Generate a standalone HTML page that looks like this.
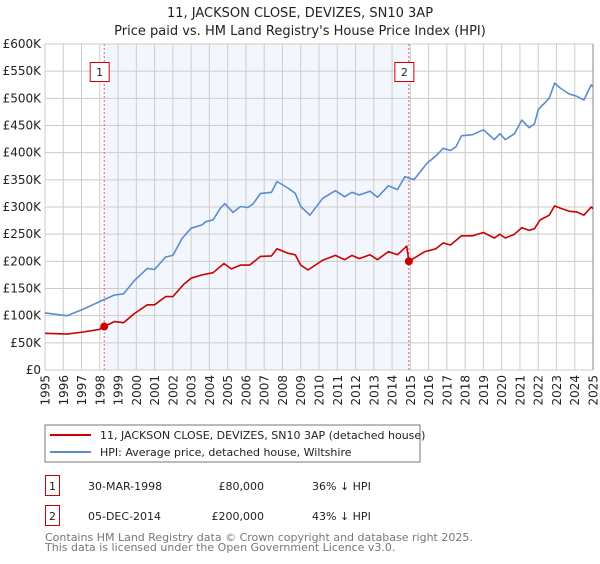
<!DOCTYPE html>
<html><head><meta charset="utf-8"><style>
body{margin:0;width:600px;height:560px;background:#fff;font-family:"DejaVu Sans","Liberation Sans",sans-serif;overflow:hidden}
svg text{font-family:"DejaVu Sans","Liberation Sans",sans-serif}
</style></head><body>
<svg id="c" width="600" height="560" viewBox="0 0 600 560">
<text x="300" y="17" text-anchor="middle" font-size="13" fill="#222">11, JACKSON CLOSE, DEVIZES, SN10 3AP</text>
<text x="300" y="35" text-anchor="middle" font-size="13" fill="#222">Price paid vs. HM Land Registry's House Price Index (HPI)</text>
<g id="plot"></g>
<rect x="45" y="425" width="375" height="37" fill="#fff" stroke="#777"/>
<line x1="50" y1="435" x2="91" y2="435" stroke="#cc0000" stroke-width="2"/>
<text x="100" y="439" font-size="11" fill="#222">11, JACKSON CLOSE, DEVIZES, SN10 3AP (detached house)</text>
<line x1="50" y1="452" x2="91" y2="452" stroke="#5b8bd0" stroke-width="2"/>
<text x="100" y="456" font-size="11" fill="#222">HPI: Average price, detached house, Wiltshire</text>
<g>
<rect x="45.5" y="475.5" width="14" height="20" fill="#fff" stroke="#cc0000"/>
<text x="52.5" y="490" text-anchor="middle" font-size="11" fill="#222">1</text>
<text x="88" y="490" font-size="11" fill="#222">30-MAR-1998</text>
<text x="264" y="490" text-anchor="end" font-size="11" fill="#222">£80,000</text>
<text x="312" y="490" font-size="11" fill="#222">36% ↓ HPI</text></g>
<g>
<rect x="45.5" y="505.5" width="14" height="20" fill="#fff" stroke="#cc0000"/>
<text x="52.5" y="520" text-anchor="middle" font-size="11" fill="#222">2</text>
<text x="88" y="520" font-size="11" fill="#222">05-DEC-2014</text>
<text x="264" y="520" text-anchor="end" font-size="11" fill="#222">£200,000</text>
<text x="312" y="520" font-size="11" fill="#222">43% ↓ HPI</text></g>
<text x="45" y="541" font-size="11" fill="#777">Contains HM Land Registry data © Crown copyright and database right 2025.</text>
<text x="45" y="551" font-size="11" fill="#777">This data is licensed under the Open Government Licence v3.0.</text>
</svg>
<script>
const yTicks=[0,50,100,150,200,250,300,350,400,450,500,550,600];
const yTickLabels=["£0","£50K","£100K","£150K","£200K","£250K","£300K","£350K","£400K","£450K","£500K","£550K","£600K"];
const xYears=[1995,1996,1997,1998,1999,2000,2001,2002,2003,2004,2005,2006,2007,2008,2009,2010,2011,2012,2013,2014,2015,2016,2017,2018,2019,2020,2021,2022,2023,2024,2025];
const hpiDates=[1995,1996.2,1997.1,1998,1998.8,1999.3,1999.9,2000.6,2001,2001.6,2002,2002.5,2003,2003.6,2003.8,2004.2,2004.6,2004.85,2005.3,2005.7,2006.1,2006.4,2006.8,2007.4,2007.7,2008.3,2008.7,2009,2009.5,2010.2,2010.9,2011.4,2011.8,2012.2,2012.8,2013.2,2013.8,2014.3,2014.7,2015.2,2015.9,2016.4,2016.8,2017.2,2017.5,2017.8,2018.4,2019,2019.6,2019.9,2020.2,2020.7,2021.1,2021.5,2021.8,2022,2022.6,2022.9,2023.2,2023.7,2024.1,2024.5,2024.9,2025];
const hpiValues=[105,100,112,126,138,140,165,187,185,208,211,242,261,267,273,276,298,306,290,301,299,306,325,327,347,335,325,301,285,316,330,319,327,322,329,318,339,332,356,350,380,394,408,404,411,431,433,442,424,435,424,435,460,446,453,479,500,528,519,508,504,497,525,521];
const priceDates=[1995,1996.2,1997.1,1998,1998.24,1998.8,1999.3,1999.9,2000.6,2001,2001.6,2002,2002.6,2003,2003.6,2004.2,2004.8,2005.2,2005.7,2006.2,2006.8,2007.4,2007.7,2008.3,2008.7,2009,2009.4,2010.2,2010.9,2011.4,2011.8,2012.2,2012.8,2013.2,2013.8,2014.3,2014.8,2014.92,2015.8,2016.4,2016.8,2017.2,2017.8,2018.4,2019,2019.6,2019.9,2020.2,2020.7,2021.1,2021.5,2021.8,2022.1,2022.6,2022.9,2023.2,2023.7,2024.1,2024.5,2024.9,2025];
const priceValues=[67.5,66,70,75,80,89,87,104,120,120,135,135,158,169,175,179,196,186,193,193,209,210,223,215,212,193,184,202,211,203,211,205,212,203,218,212,228,200,218,223,234,230,247,247,253,243,250,243,250,262,257,260,276,285,302,298,292,291,285,300,297];
const saleDates=[1998.24,2014.92];
const saleValues=[80,200];
const saleLabels=["1","2"];
const X0=45,X1=593,Y0=370,Y1=44;
const xs=d=>X0+(d-1995)/30*(X1-X0);
const ys=v=>Y0-v/600*(Y0-Y1);
const NS="http://www.w3.org/2000/svg";
const g=document.getElementById('plot');
function mk(t,a){const e=document.createElementNS(NS,t);for(const k in a)e.setAttribute(k,a[k]);g.appendChild(e);return e;}
let e=mk('rect',{x:X0,y:Y1,width:X1-X0,height:Y0-Y1,fill:'#fff'});


e=mk('rect',{x:xs(saleDates[0]),y:Y1,width:xs(saleDates[1])-xs(saleDates[0]),height:Y0-Y1,fill:'#eef3fc',opacity:0.7});


xYears.forEach(yr=>{
 const x=xs(yr);
 const l=mk('line',{x1:x,y1:Y1,x2:x,y2:Y0,stroke:'#ccc','stroke-width':1});
 
 
 const t=mk('text',{x:0,y:0,'text-anchor':'end','font-size':12,fill:'#222',transform:'translate('+(x+4.5).toFixed(1)+',375) rotate(-90)'});
 t.textContent=yr;
 
 
});
yTicks.forEach((v,i)=>{
 const y=ys(v);
 const l=mk('line',{x1:X0,y1:y,x2:X1,y2:y,stroke:'#ccc','stroke-width':1});
 
 
 const t=mk('text',{x:41,y:y+4,'text-anchor':'end','font-size':12,fill:'#222'});
 t.textContent=yTickLabels[i];
 
 
});
e=mk('line',{x1:X1,y1:Y1,x2:X1,y2:Y0,stroke:'#888','stroke-width':1});


saleDates.forEach((d,i)=>{
 const x=xs(d);
 const l=mk('line',{x1:x,y1:Y1,x2:x,y2:Y0,stroke:'#e06070','stroke-width':1,'stroke-dasharray':'2,2'});
 
 
});
function pts(ds,vs){return ds.map((d,i)=>xs(d).toFixed(1)+','+ys(vs[i]).toFixed(1)).join(' ');}
e=mk('polyline',{points:pts(hpiDates,hpiValues),fill:'none',stroke:'#5b8bd0','stroke-width':1.6,'stroke-linejoin':'round'});


e=mk('polyline',{points:pts(priceDates,priceValues),fill:'none',stroke:'#cc0000','stroke-width':1.6,'stroke-linejoin':'round'});


saleDates.forEach((d,i)=>{
 const c=mk('circle',{cx:xs(d),cy:ys(saleValues[i]),r:4,fill:'#cc0000'});
 
 
 const bx=xs(d)-8;
 const r=mk('rect',{x:bx-6,y:62.5,width:19,height:19,fill:'#fff',stroke:'#cc0000'});
 
 
 const t=mk('text',{x:bx+3.5,y:76,'text-anchor':'middle','font-size':11,fill:'#222'});
 t.textContent=saleLabels[i];
 
 
});
</script>
</body></html>
